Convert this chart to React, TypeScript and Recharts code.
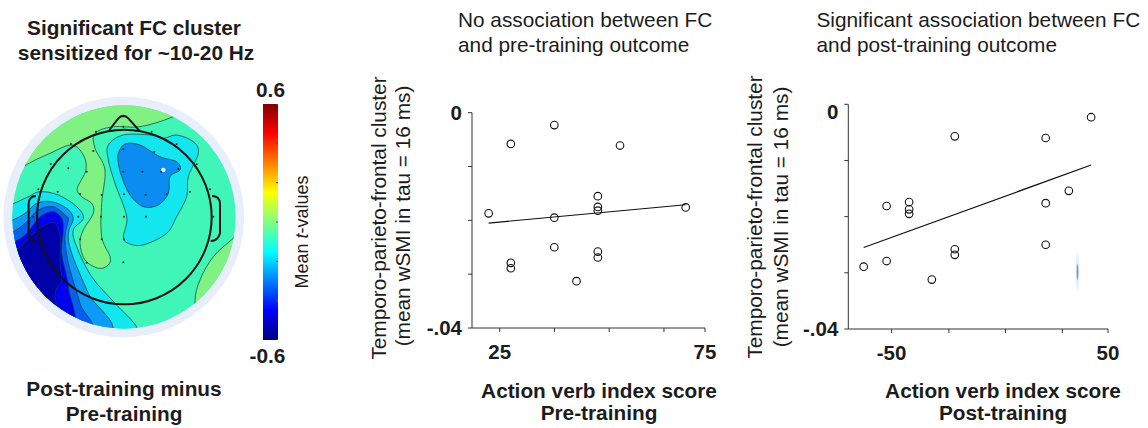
import React from 'react';
import { BarChart, Bar, ScatterChart, Scatter, XAxis, YAxis } from 'recharts';

// pre-training scatter (action verb index score vs mean wSMI)
const preX = [38.3, 27.7, 54.3, 48.9, 48.9, 48.9, 70.3, 22.3, 38.3, 38.3, 48.9, 48.9, 27.7, 27.7, 43.7];
const preY = [-0.0023, -0.0058, -0.0061, -0.0155, -0.0175, -0.0182, -0.0176, -0.0187, -0.0195, -0.025, -0.0258, -0.0269, -0.0279, -0.0289, -0.0313];
const preFitX = [22.3, 70.3];
const preFitY = [-0.0205, -0.0171];
const preXTicks = [25, 38.33, 51.67, 65, 75];

// post-training scatter
const postX = [42.2, -20.8, 21.2, 31.9, 21.2, -52.3, -41.9, -41.9, -41.9, 21.2, -20.8, -20.8, -52.3, -62.9, -31.4];
const postY = [-0.0023, -0.0057, -0.006, -0.0154, -0.0176, -0.0181, -0.0174, -0.0187, -0.0195, -0.025, -0.0258, -0.0268, -0.0279, -0.0289, -0.0312];
const postFitX = [-62.9, 42.2];
const postFitY = [-0.0255, -0.0108];
const postXTicks = [-50, -23.5, 2.6, 28.9, 50];

const yTicks = [0, -0.01, -0.02, -0.03, -0.04];

// electrode positions on the scalp map
const sensorX = [370, 288, 455, 213, 530, 370, 463, 280, 152, 590, 205, 260, 370, 427, 483, 535, 115, 630, 173, 240, 305, 372, 437, 500, 570, 100, 640, 235, 303, 372, 438, 240, 305, 372, 260, 370];
const sensorY = [170, 185, 185, 222, 222, 238, 245, 243, 282, 283, 295, 305, 305, 305, 305, 297, 358, 358, 365, 372, 375, 373, 375, 372, 365, 440, 440, 440, 440, 440, 440, 508, 508, 508, 578, 577];

const colorRange = [{ name: 't', range: [-0.6, 0.6] }];
const colorTicks = [-0.6, -0.4, -0.2, 0, 0.2, 0.4, 0.6];

const zip = (xs: number[], ys: number[]) => xs.map((x, i) => ({ x, y: ys[i] }));

// closed smooth outline through the given points
const smooth = (pts: number[][]) => {
  const n = pts.length;
  let d = `M${pts[0][0]},${pts[0][1]}`;
  for (let i = 0; i < n; i++) {
    const p0 = pts[(i - 1 + n) % n];
    const p1 = pts[i];
    const p2 = pts[(i + 1) % n];
    const p3 = pts[(i + 2) % n];
    const c1x = p1[0] + (p2[0] - p0[0]) / 6;
    const c1y = p1[1] + (p2[1] - p0[1]) / 6;
    const c2x = p2[0] - (p3[0] - p1[0]) / 6;
    const c2y = p2[1] - (p3[1] - p1[1]) / 6;
    d += `C${c1x},${c1y} ${c2x},${c2y} ${p2[0]},${p2[1]}`;
  }
  return d + 'Z';
};

// contour outlines of the map, lower-left layers are offset from the crop they were traced on
const off = (pts: number[][]) => pts.map(([x, y]) => [x + 15, y + 330]);
const tail = [[420, 560], [-40, 560], [-60, 100]];

const contours: { fill: string; pts: number[][] }[] = [
  {
    fill: '#7FF283',
    pts: [[-60, 380], [70, 290], [150, 250], [215, 225], [250, 255], [258, 300], [232, 355], [245, 380], [275, 400], [280, 430], [250, 480], [240, 520], [255, 570], [295, 595], [325, 585], [330, 560], [305, 500], [305, 400], [315, 300], [285, 235], [285, 190], [340, 170], [420, 170], [520, 140], [640, 80], [400, 20], [100, 60]],
  },
  { fill: '#7FF283', pts: [[730, 480], [700, 505], [640, 560], [600, 630], [585, 697], [600, 800], [800, 700]] },
  {
    fill: '#14E6F0',
    pts: [[325, 225], [370, 195], [450, 195], [490, 205], [530, 195], [580, 215], [595, 250], [565, 320], [560, 380], [530, 440], [500, 490], [430, 525], [385, 520], [370, 500], [380, 440], [345, 340], [325, 270]],
  },
  {
    fill: '#0A8CF0',
    pts: [[355, 250], [375, 222], [420, 225], [480, 260], [530, 275], [540, 300], [510, 320], [505, 370], [475, 405], [430, 410], [390, 375], [365, 320], [355, 280]],
  },
  { fill: '#14E6F0', pts: off([[-40, 90], [22, 72], [70, 50], [105, 35], [160, 45], [215, 80], [235, 115], [205, 150], [215, 200], [260, 290], [330, 370], [400, 450], ...tail]) },
  { fill: '#0A9CF8', pts: off([[-40, 140], [22, 120], [60, 100], [95, 70], [140, 65], [185, 85], [205, 115], [190, 160], [200, 220], [250, 340], [310, 470], [-40, 560], [-60, 300]]) },
  { fill: '#0560F0', pts: off([[-40, 190], [25, 155], [60, 130], [100, 90], [145, 80], [180, 105], [190, 120], [180, 170], [190, 250], [225, 370], [250, 470], [-40, 560], [-60, 350]]) },
  { fill: '#0000F0', pts: off([[-40, 225], [30, 185], [65, 160], [105, 110], [145, 95], [170, 115], [175, 150], [170, 220], [190, 320], [195, 470], [-40, 560], [-60, 380]]) },
  { fill: '#0000A8', pts: off([[-40, 260], [35, 210], [80, 165], [120, 135], [150, 130], [165, 170], [165, 250], [170, 300], [150, 345], [155, 470], [-40, 560], [-60, 400]]) },
];

const LABEL_FONT = '"Liberation Sans", Arial, sans-serif';
const INK = '#1c1c1c';

const OpenDot = (props: any) => (
  <circle cx={props.cx} cy={props.cy} r={3.8} fill="none" stroke="#111" strokeWidth={1.1} />
);
const NoDot = () => null;
const SensorDot = (props: any) => <circle cx={props.cx} cy={props.cy} r={1} fill="#15302a" />;

const ScalpMap = () => (
  <svg width={330} height={300} style={{ position: 'absolute', left: 0, top: 70 }}>
    <defs>
      <clipPath id="disc">
        <circle cx={372} cy={441} r={335} />
      </clipPath>
    </defs>
    <g transform="scale(0.33333)">
      <circle cx={371} cy={441} r={361} fill="#E8EFFA" />
      <circle cx={372} cy={441} r={335} fill="#40F5B8" />
      <g clipPath="url(#disc)">
        {contours.map((c, i) => (
          <path key={i} d={smooth(c.pts)} fill={c.fill} stroke="#12403c" strokeWidth={2.2} />
        ))}
      </g>
      <circle cx={490} cy={300} r={7} fill="#E8F4F4" />
      <circle cx={373} cy={441} r={262} fill="none" stroke="#141414" strokeWidth={6} />
      <path d="M328,180 L355,145 Q370,130 385,145 L418,182" fill="none" stroke="#141414" strokeWidth={6} />
      <path d="M108,378 Q88,378 86,400 L86,490 Q90,515 110,515" fill="none" stroke="#141414" strokeWidth={6} />
      <path d="M636,378 Q658,378 660,400 L660,490 Q654,513 632,513" fill="none" stroke="#141414" strokeWidth={6} />
    </g>
  </svg>
);

const Sensors = () => (
  <ScatterChart width={330} height={300} margin={{ top: 0, right: 0, bottom: 0, left: 0 }} style={{ position: 'absolute', left: 0, top: 70 }}>
    <XAxis type="number" dataKey="x" domain={[0, 990]} hide />
    <YAxis type="number" dataKey="y" domain={[0, 900]} reversed hide />
    <Scatter data={zip(sensorX, sensorY)} shape={SensorDot} isAnimationActive={false} />
  </ScatterChart>
);

const ColorBar = () => (
  <BarChart
    width={15}
    height={236}
    data={colorRange}
    margin={{ top: 0, right: 0, bottom: 0, left: 0 }}
    barCategoryGap={0}
    style={{ position: 'absolute', left: 263, top: 104 }}
  >
    <defs>
      <linearGradient id="jet" x1="0" y1="0" x2="0" y2="1">
        <stop offset="0" stopColor="#800000" />
        <stop offset="0.125" stopColor="#ff0000" />
        <stop offset="0.375" stopColor="#ffff00" />
        <stop offset="0.625" stopColor="#00ffff" />
        <stop offset="0.875" stopColor="#0000ff" />
        <stop offset="1" stopColor="#00007f" />
      </linearGradient>
    </defs>
    <XAxis dataKey="name" hide />
    <YAxis
      orientation="right"
      mirror
      width={15}
      domain={[-0.6, 0.6]}
      ticks={colorTicks}
      interval={0}
      axisLine={false}
      tickSize={2}
      tickLine={{ stroke: '#555' }}
      tickFormatter={() => ''}
    />
    <Bar dataKey="range" fill="url(#jet)" isAnimationActive={false} />
  </BarChart>
);

type PlotProps = {
  left: number;
  top: number;
  width: number;
  height: number;
  yWidth: number;
  marginTop: number;
  marginRight: number;
  zeroDy: number;
  xDomain: number[];
  xTicks: number[];
  points: { x: number; y: number }[];
  fit: { x: number; y: number }[];
};

const tickStyle = { fontSize: 20.5, fontWeight: 700, fill: INK, fontFamily: LABEL_FONT };

const Plot = ({ left, top, width, height, yWidth, marginTop, marginRight, zeroDy, xDomain, xTicks, points, fit }: PlotProps) => (
  <ScatterChart
    width={width}
    height={height}
    margin={{ top: marginTop, right: marginRight, bottom: 0, left: 0 }}
    style={{ position: 'absolute', left, top }}
  >
    <XAxis
      type="number"
      dataKey="x"
      domain={xDomain}
      ticks={xTicks}
      interval={0}
      height={40}
      tickSize={4}
      tickMargin={12}
      stroke="#333"
      tick={tickStyle}
      allowDataOverflow
      tickFormatter={(v: number) => (v === xTicks[0] || v === xTicks[xTicks.length - 1] ? String(v) : '')}
    />
    <YAxis
      type="number"
      dataKey="y"
      domain={[-0.04, 0]}
      ticks={yTicks}
      interval={0}
      width={yWidth}
      tickSize={4}
      tickMargin={6}
      stroke="#333"
      tick={(p: any) => (
        <text x={p.x} y={p.y + (p.payload.value === 0 ? zeroDy : 0)} dy="0.35em" textAnchor="end" {...tickStyle}>
          {p.payload.value === 0 ? '0' : p.payload.value === -0.04 ? '-.04' : ''}
        </text>
      )}
    />
    <Scatter data={fit} line={{ stroke: '#111', strokeWidth: 1.2 }} shape={NoDot} isAnimationActive={false} />
    <Scatter data={points} shape={OpenDot} isAnimationActive={false} />
  </ScatterChart>
);

const Title = ({ x, y, anchor, bold, size = 20.8, children }: any) => (
  <text x={x} y={y} textAnchor={anchor || 'start'} fontWeight={bold ? 700 : 400} fontSize={size} fill={INK} fontFamily={LABEL_FONT}>
    {children}
  </text>
);

const YTitle = ({ x, cy, children }: any) => (
  <text transform={`translate(${x},${cy}) rotate(-90)`} textAnchor="middle" fontSize={20.8} fill={INK} fontFamily={LABEL_FONT}>
    {children}
  </text>
);

const Labels = () => (
  <svg width={1148} height={428} style={{ position: 'absolute', left: 0, top: 0 }}>
    <Title x={134} y={35} anchor="middle" bold>Significant FC cluster</Title>
    <Title x={136} y={60} anchor="middle" bold>sensitized for ~10-20 Hz</Title>
    <Title x={124} y={396} anchor="middle" bold>Post-training minus</Title>
    <Title x={124} y={421} anchor="middle" bold>Pre-training</Title>

    <Title x={270.5} y={97} anchor="middle" bold>0.6</Title>
    <Title x={267.5} y={362.5} anchor="middle" bold>-0.6</Title>
    <text transform="translate(308,232) rotate(-90)" textAnchor="middle" fontSize={18} fill={INK} fontFamily={LABEL_FONT}>
      Mean <tspan fontStyle="italic">t</tspan>-values
    </text>

    <Title x={458} y={27}>No association between FC</Title>
    <Title x={458} y={52}>and pre-training outcome</Title>
    <YTitle x={386} cy={218}>Temporo-parieto-frontal cluster</YTitle>
    <YTitle x={410} cy={216}>(mean wSMI in tau = 16 ms)</YTitle>
    <Title x={599} y={398} anchor="middle" bold>Action verb index score</Title>
    <Title x={599} y={420} anchor="middle" bold>Pre-training</Title>

    <Title x={816.5} y={27}>Significant association between FC</Title>
    <Title x={816.5} y={52}>and post-training outcome</Title>
    <YTitle x={762} cy={217}>Temporo-parieto-frontal cluster</YTitle>
    <YTitle x={788} cy={217}>(mean wSMI in tau = 16 ms)</YTitle>
    <Title x={1003} y={398} anchor="middle" bold>Action verb index score</Title>
    <Title x={1003} y={420} anchor="middle" bold>Post-training</Title>

    {/* scanning smudge in the right panel */}
    <ellipse cx={1077.5} cy={272} rx={2} ry={18} fill="#E4EEF9" />
    <ellipse cx={1077.5} cy={272} rx={0.8} ry={8} fill="#5C9BD8" />
  </svg>
);

export default function App() {
  return (
    <div style={{ position: 'absolute', left: 0, top: 0, width: 1148, height: 428, background: '#fff', overflow: 'hidden' }}>
      <ScalpMap />
      <Sensors />
      <ColorBar />
      <Plot
        left={360}
        top={90}
        width={370}
        height={278}
        yWidth={112}
        marginTop={22.7}
        marginRight={25}
        zeroDy={0}
        xDomain={[18.25, 75]}
        xTicks={preXTicks}
        points={zip(preX, preY)}
        fit={zip(preFitX, preFitY)}
      />
      <Plot
        left={740}
        top={90}
        width={400}
        height={279}
        yWidth={108.3}
        marginTop={14.3}
        marginRight={32}
        zeroDy={8}
        xDomain={[-70, 50]}
        xTicks={postXTicks}
        points={zip(postX, postY)}
        fit={zip(postFitX, postFitY)}
      />
      <Labels />
    </div>
  );
}
